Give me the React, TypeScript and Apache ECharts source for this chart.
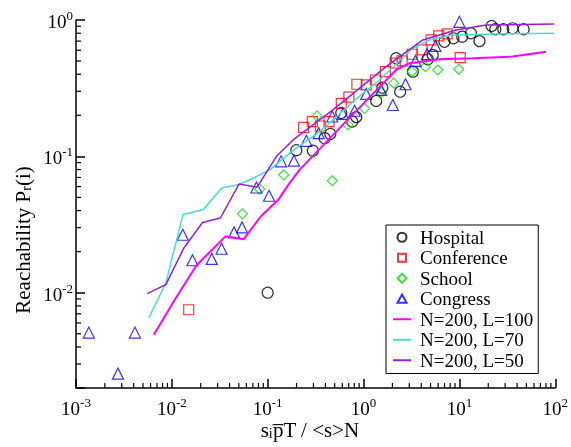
import React, { useEffect, useRef } from "react";
import * as echarts from "echarts";

const FONT = "'Liberation Serif', 'Times New Roman', 'DejaVu Serif', serif";

const X_MIN = 0.001;
const X_MAX = 100;
const Y_MIN = 0.002;
const Y_MAX = 1;

const xExponents = [-3, -2, -1, 0, 1, 2];
const yExponents = [-2, -1, 0];
const minorMultipliers = [2, 3, 4, 5, 6, 7, 8, 9];

const hospitalX = [0.1, 0.199, 0.296, 0.393, 0.45, 0.586, 0.762, 0.84, 1.355, 1.57, 2.19, 2.41, 3.27, 4.68, 5.27, 6.98, 8.66, 10.7, 13.2, 16.2, 21.7, 23.7, 28.7, 35.9, 46.8];
const hospitalY = [0.01, 0.111, 0.11, 0.136, 0.146, 0.208, 0.18, 0.194, 0.255, 0.319, 0.524, 0.298, 0.418, 0.515, 0.554, 0.693, 0.734, 0.755, 0.8, 0.7, 0.904, 0.855, 0.855, 0.869, 0.855];

const conferenceX = [0.015, 0.237, 0.292, 0.354, 0.436, 0.586, 0.703, 0.852, 1.067, 1.33, 1.69, 2.14, 2.53, 3.21, 4.08, 5.07, 6.08, 7.45, 10.2];
const conferenceY = [0.0075, 0.163, 0.18, 0.167, 0.18, 0.245, 0.272, 0.338, 0.334, 0.363, 0.418, 0.482, 0.501, 0.561, 0.603, 0.714, 0.764, 0.79, 0.53];

const schoolX = [0.0545, 0.0826, 0.147, 0.327, 0.472, 0.686, 1.024, 1.53, 2.07, 3.21, 4.42, 5.94, 9.84];
const schoolY = [0.0379, 0.0575, 0.0732, 0.198, 0.0662, 0.17, 0.225, 0.294, 0.344, 0.418, 0.455, 0.43, 0.435];

const congressX = [0.00136, 0.00274, 0.00412, 0.013, 0.0164, 0.0261, 0.033, 0.0446, 0.054, 0.0762, 0.1033, 0.138, 0.188, 0.253, 0.34, 0.472, 0.609, 0.806, 1.067, 1.53, 2.02, 2.74, 3.48, 4.6, 5.62, 10];
const congressY = [0.0051, 0.00255, 0.0051, 0.0266, 0.0173, 0.0177, 0.021, 0.0277, 0.0301, 0.0591, 0.0514, 0.092, 0.093, 0.13, 0.148, 0.196, 0.205, 0.216, 0.287, 0.307, 0.238, 0.338, 0.501, 0.563, 0.645, 0.97];

const l100X = [0.0065, 0.01074, 0.0181, 0.0363, 0.0562, 0.0846, 0.13, 0.169, 0.215, 0.681, 2.19, 3.01, 6.19, 13.8, 35.9, 80];
const l100Y = [0.00492, 0.00889, 0.0159, 0.0259, 0.0247, 0.0362, 0.0484, 0.0636, 0.0796, 0.185, 0.43, 0.482, 0.515, 0.524, 0.539, 0.586];

const l70X = [0.00575, 0.00866, 0.0131, 0.0212, 0.0332, 0.0491, 0.065, 0.105, 0.169, 0.348, 0.984, 1.468, 3.27, 4.87, 8.5, 24.1, 97];
const l70Y = [0.00653, 0.01178, 0.0375, 0.0406, 0.0585, 0.0618, 0.0674, 0.0796, 0.1055, 0.152, 0.29, 0.363, 0.62, 0.714, 0.776, 0.79, 0.8];

const l50X = [0.00553, 0.00866, 0.0133, 0.0209, 0.0321, 0.0502, 0.0775, 0.123, 0.184, 0.348, 0.479, 1.72, 4.15, 9.24, 19.0, 97.7];
const l50Y = [0.00984, 0.01145, 0.0212, 0.0327, 0.0353, 0.0626, 0.0595, 0.0997, 0.132, 0.185, 0.219, 0.455, 0.714, 0.845, 0.919, 0.935];

const seriesNames = ["Hospital", "Conference", "School", "Congress", "N=200, L=100", "N=200, L=70", "N=200, L=50"];

// legend icons: a shape inside an 18x10 box (the two leading moveTo points fix the box)
const BOX = "M0,0 M18,10 ";
const legendIcons: Record<string, string> = {
  Hospital: "path://" + BOX + "M13.5,5 A4.5,4.5 0 1 1 4.5,5 A4.5,4.5 0 1 1 13.5,5 Z",
  Conference: "path://" + BOX + "M5,1 L13,1 L13,9 L5,9 Z",
  School: "path://" + BOX + "M9,0.5 L13.5,5 L9,9.5 L4.5,5 Z",
  Congress: "path://" + BOX + "M9,0.8 L13.5,9 L4.5,9 Z",
};

const zip = (xs: number[], ys: number[]) => xs.map((x, i) => [x, ys[i]]);

const minorValues = (exps: number[], lo: number, hi: number) => {
  const out: number[] = [];
  for (let e = exps[0] - 1; e <= exps[exps.length - 1]; e++) {
    for (const m of minorMultipliers) {
      const v = m * Math.pow(10, e);
      if (v > lo * 1.0001 && v < hi * 0.9999) out.push(v);
    }
  }
  return out;
};

const expLabel = (v: number) => {
  const e = Math.log10(v);
  const r = Math.round(e);
  if (Math.abs(e - r) > 1e-6) return "";
  return `{b|10}{s|${r}}`;
};

const labelRich = {
  b: { fontFamily: FONT, fontSize: 19, color: "#000", lineHeight: 22, verticalAlign: "bottom" },
  s: { fontFamily: FONT, fontSize: 13, color: "#000", lineHeight: 22, verticalAlign: "top", padding: [0, 0, 8, 0] },
};

const titleRich = {
  a: { fontFamily: FONT, fontSize: 21, color: "#000", lineHeight: 24, verticalAlign: "bottom" },
  u: { fontFamily: FONT, fontSize: 14, color: "#000", lineHeight: 24, verticalAlign: "bottom", padding: [7, 0, 0, 0] },
};

export default function App() {
  const ref = useRef<HTMLDivElement>(null);
  useEffect(() => {
    if (!ref.current) return;
    const chart = echarts.init(ref.current, undefined, { renderer: "svg" });

    const scatter = (name: string, xs: number[], ys: number[], symbol: string, color: string, size: number) => ({
      name,
      type: "scatter",
      data: zip(xs, ys),
      symbol,
      symbolSize: size,
      itemStyle: { color: "transparent", borderColor: color, borderWidth: 1.2 },
      z: 2,
    });
    const line = (name: string, xs: number[], ys: number[], color: string, width: number) => ({
      name,
      type: "line",
      data: zip(xs, ys),
      symbol: "none",
      showSymbol: false,
      lineStyle: { color, width },
      itemStyle: { color: "transparent", borderColor: "transparent", borderWidth: 0 },
      z: 3,
    });

    const xMinor = minorValues(xExponents, X_MIN, X_MAX);
    const yMinor = minorValues(yExponents, Y_MIN, Y_MAX);

    chart.setOption({
      animation: false,
      grid: { left: 76, right: 15, top: 20, bottom: 59 },
      xAxis: {
        type: "log",
        logBase: 10,
        min: X_MIN,
        max: X_MAX,
        splitLine: { show: false },
        axisLine: { lineStyle: { color: "#000", width: 1.5 } },
        axisTick: { inside: true, length: 9, lineStyle: { color: "#000", width: 1.5 } },
        axisLabel: { margin: 8, formatter: expLabel, rich: labelRich, showMinLabel: true, showMaxLabel: true },
      },
      yAxis: {
        type: "log",
        logBase: 10,
        min: Y_MIN,
        max: Y_MAX,
        splitNumber: 3,
        splitLine: { show: false },
        axisLine: { lineStyle: { color: "#000", width: 1.5 } },
        axisTick: { inside: true, length: 9, lineStyle: { color: "#000", width: 1.5 } },
        axisLabel: { margin: 3, formatter: expLabel, rich: labelRich },
      },
      legend: {
        data: seriesNames.map((n) => (legendIcons[n] ? { name: n, icon: legendIcons[n] } : { name: n })),
        orient: "vertical",
        left: 386,
        top: 225,
        itemWidth: 18,
        itemHeight: 10,
        itemGap: 0,
        padding: [2, 5, 3, 6],
        borderColor: "#000",
        borderWidth: 1,
        backgroundColor: "#fff",
        textStyle: { fontFamily: FONT, fontSize: 19, color: "#000", lineHeight: 20.5, padding: [0, 0, 0, 4] },
      },
      graphic: [
        {
          type: "text",
          x: 310,
          y: 428,
          style: {
            text: "{a|s}{u|i}{a|p\u0305T / <s>N}",
            align: "center",
            verticalAlign: "middle",
            rich: titleRich,
          },
        },
        {
          type: "text",
          x: 21,
          y: 240,
          rotation: Math.PI / 2,
          style: {
            text: "{a|Reachability P}{u|r}{a|(i)}",
            align: "center",
            verticalAlign: "middle",
            rich: titleRich,
          },
        },
      ],
      series: [
        scatter("Hospital", hospitalX, hospitalY, "circle", "#000000", 11),
        scatter("Conference", conferenceX, conferenceY, "rect", "#ff0000", 10),
        scatter("School", schoolX, schoolY, "diamond", "#00e000", 10),
        scatter("Congress", congressX, congressY, "triangle", "#0000ff", 11),
        line("N=200, L=100", l100X, l100Y, "#ff00ff", 2),
        line("N=200, L=70", l70X, l70Y, "#40e0d0", 1.5),
        line("N=200, L=50", l50X, l50Y, "#9a1be0", 1.5),
        {
          type: "custom",
          silent: true,
          data: xMinor.map((v) => [v, Y_MIN]),
          renderItem: (_p: any, api: any) => {
            const p = api.coord([api.value(0), api.value(1)]);
            return { type: "line", shape: { x1: p[0], y1: p[1], x2: p[0], y2: p[1] - 5 }, style: { stroke: "#000", lineWidth: 1.2 } };
          },
          z: 1,
        },
        {
          type: "custom",
          silent: true,
          data: yMinor.map((v) => [X_MIN, v]),
          renderItem: (_p: any, api: any) => {
            const p = api.coord([api.value(0), api.value(1)]);
            return { type: "line", shape: { x1: p[0], y1: p[1], x2: p[0] + 5, y2: p[1] }, style: { stroke: "#000", lineWidth: 1.2 } };
          },
          z: 1,
        },
      ],
    });
    return () => chart.dispose();
  }, []);
  return <div ref={ref} style={{ position: "fixed", left: 0, top: 0, width: 571, height: 447 }} />;
}
